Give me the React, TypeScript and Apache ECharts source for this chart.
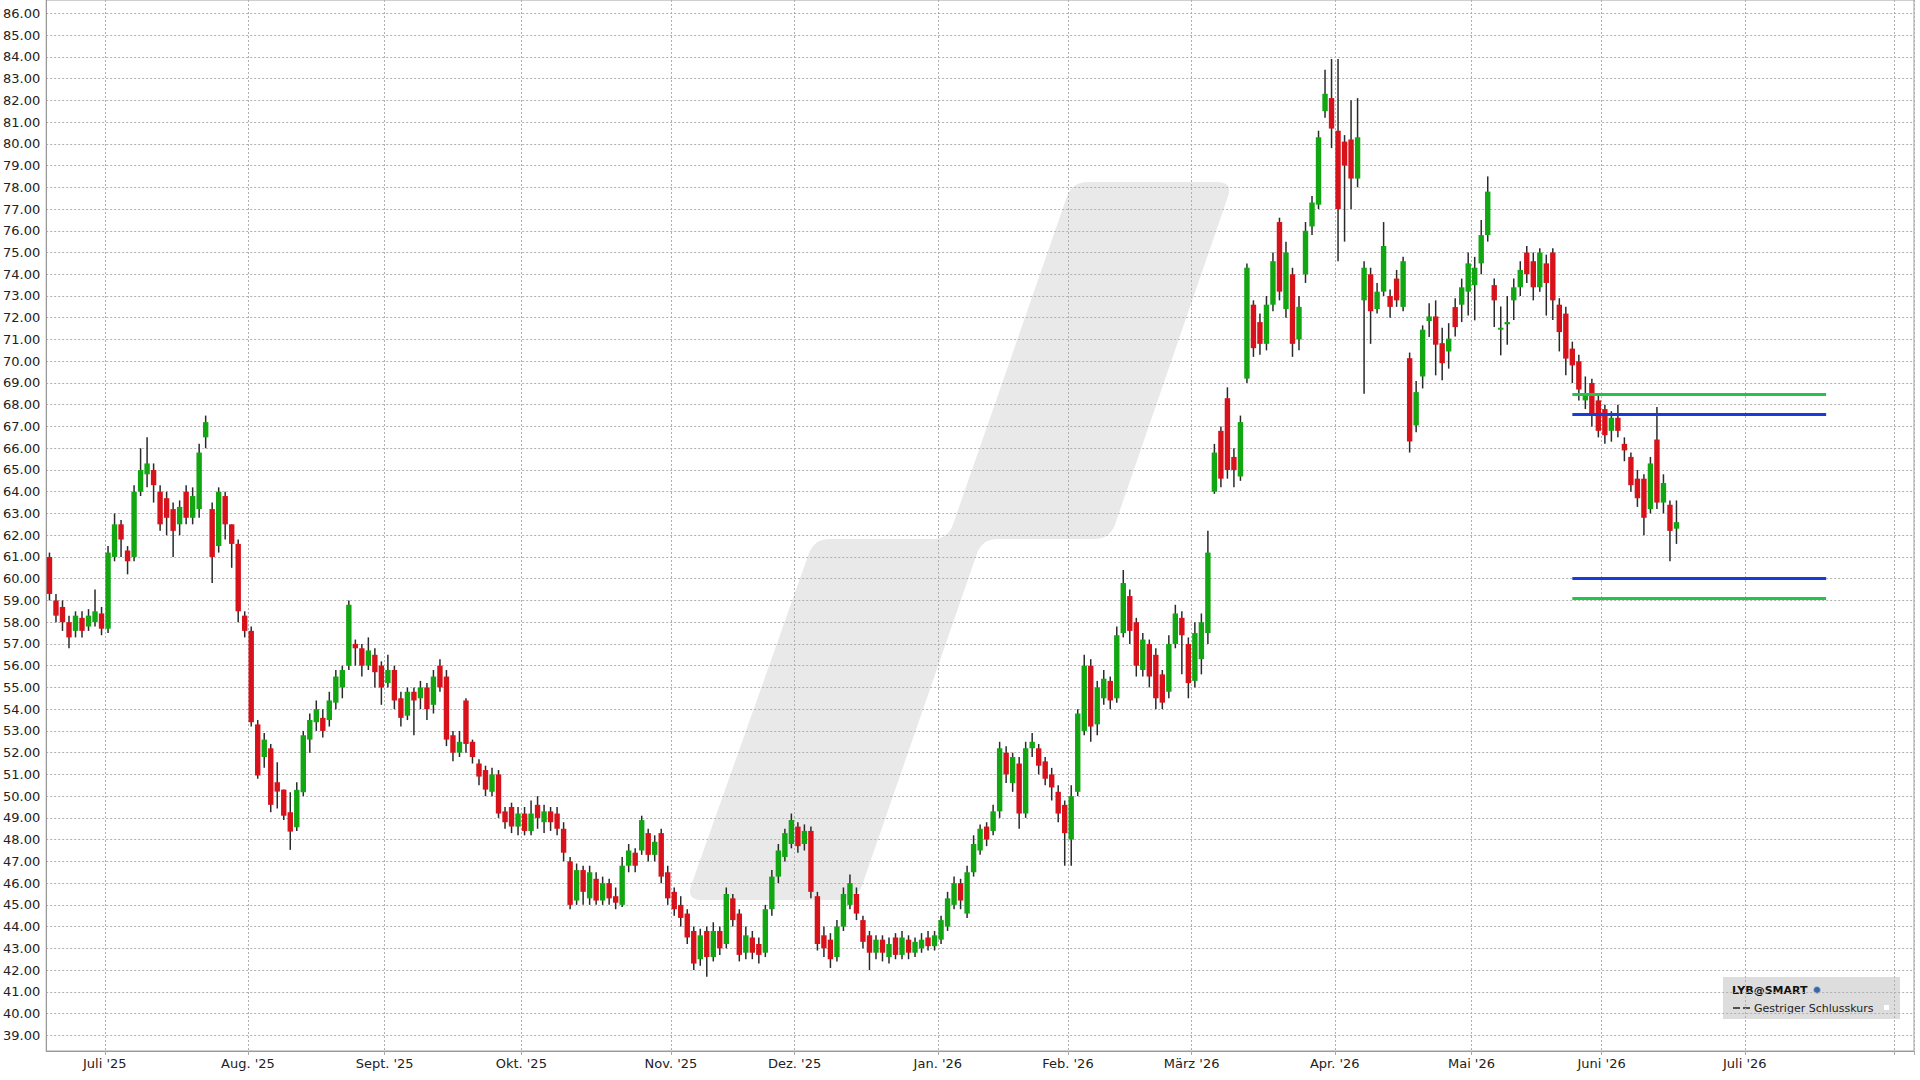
import React, { useEffect, useRef } from "react";
import * as echarts from "echarts";

// ---------- DATA ----------
// trading days per calendar-month segment on the category axis
const monthLabels = ["", "Juli '25", "Aug. '25", "Sept. '25", "Okt. '25", "Nov. '25", "Dez. '25", "Jan. '26", "Feb. '26", "März '26", "Apr. '26", "Mai '26", "Juni '26", "Juli '26", ""];
const monthTradingDays = [9, 22, 21, 21, 23, 19, 22, 20, 19, 22, 21, 20, 22, 23, 3];

// candles: [open, close, low, high]
const jun25 = [
  [61.0, 59.3, 59.0, 61.2], [59.0, 58.3, 58.0, 59.3], [58.7, 58.0, 57.6, 59.0], [58.0, 57.3, 56.8, 58.3],
  [57.6, 58.3, 57.3, 58.5], [58.2, 57.6, 57.3, 58.5], [57.8, 58.3, 57.6, 58.6], [58.0, 58.5, 57.8, 59.5],
  [58.4, 57.7, 57.4, 58.7],
];
const jul25 = [
  [57.7, 61.2, 57.5, 61.5], [61.0, 62.5, 60.8, 63.0], [62.5, 61.8, 61.0, 62.7], [61.3, 60.8, 60.2, 61.5],
  [61.0, 64.0, 60.8, 64.3], [64.0, 65.0, 63.8, 66.0], [64.8, 65.3, 64.2, 66.5], [65.0, 64.3, 63.5, 65.3],
  [64.0, 62.5, 62.2, 64.3], [63.7, 62.8, 62.0, 64.0], [63.2, 62.2, 61.0, 63.5], [62.5, 63.3, 62.0, 63.6],
  [64.0, 62.8, 62.5, 64.3], [62.8, 63.8, 62.5, 64.2], [63.2, 65.8, 62.8, 66.2], [66.5, 67.2, 66.0, 67.5],
  [63.2, 61.0, 59.8, 63.5], [61.5, 64.0, 61.2, 64.2], [63.8, 62.5, 61.8, 64.0], [62.5, 61.6, 60.5, 62.5],
  [61.6, 58.5, 58.0, 61.8], [58.3, 57.6, 57.3, 58.5],
];
const aug25 = [
  [57.6, 53.4, 53.2, 57.8], [53.3, 50.95, 50.8, 53.5], [51.8, 52.6, 51.3, 52.9], [52.2, 49.6, 49.26, 52.4],
  [50.64, 50.21, 49.43, 51.56], [50.3, 49.1, 48.9, 50.3], [49.26, 48.37, 47.53, 50.18], [48.57, 50.29, 48.4, 50.64],
  [50.18, 52.8, 50.0, 53.0], [52.6, 53.5, 52.0, 53.8], [53.4, 54.0, 53.0, 54.4], [53.6, 53.0, 52.7, 54.0],
  [53.5, 54.4, 53.2, 54.8], [54.3, 55.5, 54.0, 55.8], [55.0, 55.8, 54.5, 56.0], [56.0, 58.8, 55.8, 59.0],
  [57.0, 56.8, 56.0, 57.2], [56.8, 56.0, 55.5, 57.0], [56.0, 56.7, 55.8, 57.3], [56.5, 55.7, 55.0, 56.8],
  [56.0, 55.0, 54.2, 56.2],
];
const sep25 = [
  [55.2, 55.8, 55.0, 56.5], [55.8, 54.4, 54.0, 56.0], [54.5, 53.6, 53.2, 54.8], [53.7, 54.8, 53.5, 55.0],
  [54.8, 54.4, 52.8, 55.0], [54.5, 55.0, 54.0, 55.3], [55.0, 54.0, 53.5, 55.2], [54.2, 55.5, 53.8, 55.8],
  [56.0, 55.0, 54.8, 56.3], [55.5, 52.6, 52.3, 55.8], [52.8, 52.0, 51.6, 53.0], [52.0, 52.5, 51.8, 53.0],
  [54.4, 52.4, 52.0, 54.5], [52.5, 51.8, 51.5, 52.6], [51.5, 50.9, 50.5, 51.7], [51.2, 50.3, 50.0, 51.4],
  [50.2, 51.0, 50.0, 51.3], [51.0, 49.2, 49.0, 51.2], [49.3, 48.8, 48.5, 49.5], [49.5, 48.6, 48.3, 49.7],
  [48.6, 49.2, 48.2, 49.5],
];
const oct25 = [
  [49.2, 48.4, 48.2, 49.5], [48.4, 49.2, 48.2, 49.8], [49.6, 49.0, 48.5, 50.0], [48.8, 49.3, 48.3, 49.6],
  [49.3, 48.8, 48.4, 49.5], [49.2, 48.5, 48.2, 49.5], [48.5, 47.4, 47.0, 48.8], [47.0, 45.0, 44.8, 47.2],
  [45.2, 46.6, 45.0, 46.9], [46.6, 45.6, 45.0, 46.8], [45.3, 46.5, 45.0, 46.8], [46.2, 45.2, 45.0, 46.5],
  [45.2, 46.0, 45.0, 46.3], [46.0, 45.3, 45.0, 46.2], [45.4, 45.1, 44.8, 45.8], [45.0, 46.8, 44.9, 47.2],
  [46.8, 47.5, 46.5, 47.8], [47.4, 46.8, 46.5, 47.6], [47.5, 48.9, 47.3, 49.1], [48.3, 47.3, 47.0, 48.5],
  [47.3, 47.9, 47.0, 48.2], [48.3, 46.3, 46.0, 48.5], [46.5, 45.3, 45.0, 46.8],
];
const nov25 = [
  [45.6, 44.8, 44.5, 45.8], [45.0, 44.4, 44.0, 45.4], [44.6, 43.5, 43.2, 44.8], [43.8, 42.3, 42.0, 44.0],
  [42.5, 43.6, 42.2, 43.9], [43.8, 42.6, 41.7, 44.0], [42.6, 43.8, 42.4, 44.2], [43.8, 43.0, 42.7, 44.0],
  [43.2, 45.5, 43.0, 45.8], [45.3, 44.3, 44.0, 45.5], [44.6, 42.7, 42.4, 44.8], [42.8, 43.6, 42.5, 44.0],
  [43.5, 42.8, 42.5, 43.8], [43.2, 42.7, 42.3, 43.5], [42.8, 44.8, 42.6, 45.0], [44.8, 46.3, 44.5, 46.6],
  [46.3, 47.5, 46.0, 47.8], [47.2, 48.3, 47.0, 48.5], [47.8, 48.9, 47.6, 49.2],
];
const dec25 = [
  [48.6, 47.7, 47.4, 48.8], [47.8, 48.4, 47.5, 48.7], [48.4, 45.6, 45.3, 48.6], [45.4, 43.2, 42.9, 45.6],
  [43.6, 43.0, 42.6, 44.0], [43.4, 42.5, 42.1, 43.7], [42.6, 44.0, 42.4, 44.3], [44.0, 45.5, 43.8, 45.8],
  [45.0, 46.0, 44.8, 46.4], [45.5, 44.6, 44.3, 45.8], [44.3, 43.3, 43.0, 44.5], [43.6, 42.8, 42.0, 43.8],
  [42.8, 43.4, 42.5, 43.6], [43.4, 42.8, 42.4, 43.6], [42.6, 43.2, 42.3, 43.5], [43.5, 42.7, 42.5, 43.7],
  [42.7, 43.5, 42.5, 43.8], [43.4, 42.8, 42.5, 43.6], [42.8, 43.3, 42.6, 43.5], [43.0, 43.4, 42.8, 43.7],
  [43.5, 43.1, 42.9, 43.8], [43.1, 43.6, 42.9, 43.8],
];
const jan26 = [
  [43.4, 44.3, 43.2, 44.5], [44.0, 45.3, 43.8, 45.6], [45.0, 46.0, 44.8, 46.3], [46.0, 45.2, 44.8, 46.2],
  [44.6, 46.5, 44.4, 46.8], [46.5, 47.8, 46.3, 48.2], [47.5, 48.5, 47.3, 48.7], [48.6, 48.0, 47.7, 48.8],
  [48.4, 49.3, 48.2, 49.6], [49.3, 52.2, 49.0, 52.5], [52.0, 51.0, 50.6, 52.3], [50.6, 51.8, 50.2, 52.0],
  [51.5, 49.2, 48.5, 51.8], [49.2, 52.2, 49.0, 52.5], [52.2, 52.5, 51.8, 52.9], [52.2, 51.4, 51.0, 52.4],
  [51.6, 50.8, 50.5, 51.8], [51.0, 50.4, 49.8, 51.3], [50.2, 49.2, 48.8, 50.5], [49.6, 48.3, 46.8, 49.8],
];
const feb26 = [
  [48.0, 50.0, 46.8, 50.5], [50.2, 53.8, 50.0, 54.0], [53.0, 56.0, 52.8, 56.5], [56.0, 53.2, 52.5, 56.3],
  [53.3, 55.0, 52.8, 55.3], [54.5, 55.4, 54.2, 55.8], [55.3, 54.4, 54.0, 55.5], [54.5, 57.4, 54.3, 57.8],
  [57.5, 59.8, 57.3, 60.4], [59.2, 57.6, 57.0, 59.5], [58.0, 56.0, 55.5, 58.2], [55.8, 57.2, 55.5, 57.5],
  [57.0, 55.5, 55.0, 57.2], [56.5, 54.5, 54.0, 56.8], [55.6, 54.3, 54.0, 55.8], [54.8, 57.0, 54.5, 57.4],
  [57.0, 58.4, 56.8, 58.8], [58.2, 57.4, 55.6, 58.5], [57.0, 55.2, 54.5, 57.3],
];
const mar26 = [
  [55.3, 57.5, 55.0, 58.0], [56.3, 58.0, 55.6, 58.4], [57.5, 61.2, 57.0, 62.2], [64.0, 65.8, 63.9, 66.2],
  [66.8, 64.6, 64.2, 67.0], [68.3, 65.0, 64.6, 68.8], [65.6, 65.0, 64.2, 66.0], [64.7, 67.2, 64.5, 67.5],
  [69.2, 74.3, 69.0, 74.5], [72.6, 70.6, 70.2, 72.8], [71.8, 70.8, 70.3, 72.2], [70.8, 72.6, 70.5, 73.0],
  [72.6, 74.6, 72.3, 75.0], [76.4, 73.2, 72.8, 76.6], [72.4, 75.0, 72.0, 75.5], [74.0, 70.8, 70.2, 74.3],
  [71.0, 72.5, 70.5, 73.0], [74.0, 76.0, 73.6, 76.4], [76.2, 77.3, 75.8, 77.6], [77.2, 80.3, 77.0, 80.6],
  [81.5, 82.3, 81.2, 83.4], [82.1, 80.7, 79.8, 83.9],
];
const apr26 = [
  [80.6, 77.0, 74.6, 83.9], [80.1, 79.0, 75.5, 80.4], [80.2, 78.4, 77.0, 82.0], [78.4, 80.3, 78.0, 82.1],
  [72.8, 74.3, 68.5, 74.6], [74.0, 72.3, 70.8, 74.3], [72.4, 73.2, 72.2, 73.6], [73.2, 75.3, 73.0, 76.4],
  [73.0, 72.5, 72.0, 73.3], [73.8, 72.8, 72.5, 74.2], [72.5, 74.6, 72.3, 74.8], [70.14, 66.31, 65.8, 70.4],
  [67.05, 68.58, 66.73, 69.09], [69.3, 71.45, 68.75, 71.65], [71.85, 72.06, 71.11, 72.67], [72.06, 70.76, 69.35, 72.8],
  [70.83, 69.91, 69.12, 71.54], [70.45, 71.04, 69.66, 71.75], [72.49, 71.57, 71.14, 72.9], [72.6, 73.4, 71.8, 73.8],
  [73.2, 74.5, 72.1, 75.0],
];
const may26 = [
  [73.5, 74.3, 71.88, 74.8], [74.5, 75.8, 74.0, 76.5], [75.8, 77.8, 75.5, 78.5], [73.5, 72.8, 71.57, 73.8],
  [71.45, 71.54, 70.27, 72.52], [71.7, 71.8, 70.76, 73.0], [72.8, 73.4, 71.9, 73.8], [73.4, 74.2, 73.0, 74.6],
  [75.0, 74.0, 73.6, 75.3], [74.6, 73.4, 72.8, 75.0], [73.4, 75.0, 73.2, 75.2], [74.5, 73.6, 72.1, 74.9],
  [75.0, 72.8, 71.9, 75.2], [72.6, 71.34, 70.45, 72.9], [72.19, 70.12, 69.35, 72.5], [70.58, 69.81, 69.0, 70.9],
  [70.0, 68.7, 68.2, 70.3], [68.2, 68.5, 67.8, 69.3], [69.0, 67.5, 67.0, 69.2], [68.2, 66.8, 66.5, 68.5],
];
const jun26 = [
  [67.8, 66.6, 66.2, 68.0], [66.8, 67.4, 66.3, 67.7], [67.4, 66.8, 66.5, 68.0], [66.2, 65.9, 65.4, 66.5],
  [65.6, 64.3, 64.0, 65.8], [64.6, 63.7, 63.3, 65.0], [64.6, 62.8, 62.0, 64.8], [63.2, 65.3, 63.0, 65.6],
  [66.4, 63.5, 63.2, 67.9], [63.5, 64.4, 63.0, 64.8], [63.4, 62.2, 60.8, 63.6], [62.3, 62.6, 61.6, 63.6],
];

// horizontal resistance / support levels
const levelValues = [68.5, 67.55, 60.0, 59.1];
const levelColors = ["#27c24c", "#1a3cd6", "#1a3cd6", "#27c24c"];
const levelFromIndex = 234;
const levelToIndex = 273;

// y-axis tick labels
const yTicks = [39, 40, 41, 42, 43, 44, 45, 46, 47, 48, 49, 50, 51, 52, 53, 54, 55, 56, 57, 58, 59, 60, 61, 62,
  63, 64, 65, 66, 67, 68, 69, 70, 71, 72, 73, 74, 75, 76, 77, 78, 79, 80, 81, 82, 83, 84, 85, 86];
const yMin = 38.28;
const yMax = 86.612;

// ---------- DERIVED ----------
const candles = [...jun25, ...jul25, ...aug25, ...sep25, ...oct25, ...nov25, ...dec25, ...jan26, ...feb26, ...mar26, ...apr26, ...may26, ...jun26];
const totalCats = monthTradingDays.reduce((a, b) => a + b, 0);
const categories: string[] = [];
for (let i = 0; i < totalCats; i++) categories.push(String(i));
const monthStartLabel: Record<number, string> = {};
{
  let acc = 0;
  monthTradingDays.forEach((n, k) => {
    if (k > 0) monthStartLabel[acc] = monthLabels[k];
    acc += n;
  });
}
const isMonthStart = (i: number) => Object.prototype.hasOwnProperty.call(monthStartLabel, i);

const GREEN = "#12a612";
const RED = "#d7121b";
const WICK = "#2a2a2a";

function roundedPath(pts: number[][], r: number) {
  const n = pts.length;
  let d = "";
  for (let i = 0; i < n; i++) {
    const p = pts[(i - 1 + n) % n], v = pts[i], q = pts[(i + 1) % n];
    const d1 = Math.hypot(p[0] - v[0], p[1] - v[1]);
    const d2 = Math.hypot(q[0] - v[0], q[1] - v[1]);
    const t1 = Math.min(r, d1 / 2) / d1, t2 = Math.min(r, d2 / 2) / d2;
    const a = [v[0] + (p[0] - v[0]) * t1, v[1] + (p[1] - v[1]) * t1];
    const b = [v[0] + (q[0] - v[0]) * t2, v[1] + (q[1] - v[1]) * t2];
    d += (i === 0 ? "M" : "L") + a[0].toFixed(1) + "," + a[1].toFixed(1) + " Q" + v[0] + "," + v[1] + " " + b[0].toFixed(1) + "," + b[1].toFixed(1) + " ";
  }
  return d + "Z";
}

let registered = false;
function registerWatermark() {
  if (registered) return;
  registered = true;
  const pts = [[686, 900], [857, 900], [982, 539], [1110, 539], [1233, 182], [1072, 182], [948, 539], [814, 539]];
  echarts.graphic.registerShape("wmark", echarts.graphic.extendPath(roundedPath(pts, 16), {}));
}

export default function App() {
  const ref = useRef<HTMLDivElement>(null);
  useEffect(() => {
    document.body.style.margin = "0";
    registerWatermark();
    const chart = echarts.init(ref.current!, null, { renderer: "svg" });
    const font = "DejaVu Sans";
    const option: any = {
      animation: false,
      backgroundColor: "#ffffff",
      grid: { left: 45, top: 0, width: 1869, height: 1051, show: true, borderColor: "#a0a0a0", borderWidth: 1, backgroundColor: "transparent" },
      xAxis: {
        type: "category",
        data: categories,
        boundaryGap: true,
        axisLine: { show: true, lineStyle: { color: "#999999", width: 1 } },
        axisTick: { show: true, interval: (i: number) => isMonthStart(i), length: 4, lineStyle: { color: "#aaaaaa" } },
        axisLabel: {
          interval: (i: number) => isMonthStart(i),
          formatter: (v: string) => monthStartLabel[Number(v)] || "",
          color: "#222222", fontFamily: font, fontSize: 13, margin: 6, padding: [0, 6.5, 0, 0],
        },
        splitLine: { show: true, interval: (i: number) => isMonthStart(i), lineStyle: { color: "#b0b0b0", type: [2, 2], width: 1 } },
      },
      yAxis: {
        type: "value",
        min: yMin,
        max: yMax,
        axisLine: { show: true, lineStyle: { color: "#999999", width: 1 } },
        axisTick: { show: false, customValues: yTicks },
        axisLabel: { customValues: yTicks, formatter: (v: number) => v.toFixed(2), color: "#222222", fontFamily: font, fontSize: 13, margin: 6 },
        splitLine: { show: true, lineStyle: { color: "#b0b0b0", type: [2, 2], width: 1 } },
      },
      graphic: [
        { type: "wmark", x: 0, y: 0, z: -10, silent: true, style: { fill: "#e9e9e9" } },
        { type: "rect", z: -5, silent: true, shape: { x: 1723, y: 977, width: 177, height: 42 }, style: { fill: "#dddddd" } },
        { type: "text", z: -4, silent: true, x: 1732, y: 990, style: { text: "LYB@SMART", font: "bold 11px 'DejaVu Sans'", fill: "#111111", verticalAlign: "middle" } },
        { type: "circle", z: -4, silent: true, shape: { cx: 1817, cy: 990, r: 3.5 }, style: { fill: "#3a66a8", stroke: "#a9c4e0", lineWidth: 1 } },
        { type: "line", z: -4, silent: true, shape: { x1: 1733, y1: 1008, x2: 1740, y2: 1008 }, style: { stroke: "#222222", lineWidth: 1.5 } },
        { type: "line", z: -4, silent: true, shape: { x1: 1743, y1: 1008, x2: 1750, y2: 1008 }, style: { stroke: "#222222", lineWidth: 1.5 } },
        { type: "text", z: -4, silent: true, x: 1754, y: 1008, style: { text: "Gestriger Schlusskurs", font: "11px 'DejaVu Sans'", fill: "#222222", verticalAlign: "middle" } },
        { type: "rect", z: -4, silent: true, shape: { x: 1884, y: 1005, width: 5, height: 5 }, style: { fill: "#ffffff" } },
      ],
      series: [
        {
          type: "custom",
          name: "LYB",
          data: candles.map((c, i) => [i, c[0], c[1], c[2], c[3]]),
          encode: { x: 0, y: [1, 2, 3, 4] },
          renderItem: (params: any, api: any) => {
            const i = api.value(0);
            const o = api.value(1), c = api.value(2), l = api.value(3), h = api.value(4);
            const top = api.coord([i, Math.max(o, c)]);
            const bot = api.coord([i, Math.min(o, c)]);
            const hi = api.coord([i, h]);
            const lo = api.coord([i, l]);
            const bw = 5.4;
            const up = c >= o;
            return {
              type: "group",
              children: [
                { type: "line", shape: { x1: hi[0], y1: hi[1], x2: lo[0], y2: lo[1] }, style: { stroke: WICK, lineWidth: 1.5 } },
                { type: "rect", shape: { x: top[0] - bw / 2, y: top[1], width: bw, height: Math.max(bot[1] - top[1], 1.6) }, style: { fill: up ? GREEN : RED } },
              ],
            };
          },
          markLine: {
            silent: true,
            symbol: ["none", "none"],
            label: { show: false },
            data: levelValues.map((v, k) => [
              { coord: [String(levelFromIndex), v], lineStyle: { color: levelColors[k], width: 3, type: "solid" } },
              { coord: [String(levelToIndex), v] },
            ]),
          },
        },
      ],
    };
    chart.setOption(option);
    return () => chart.dispose();
  }, []);
  return <div ref={ref} style={{ width: 1920, height: 1080 }} />;
}
